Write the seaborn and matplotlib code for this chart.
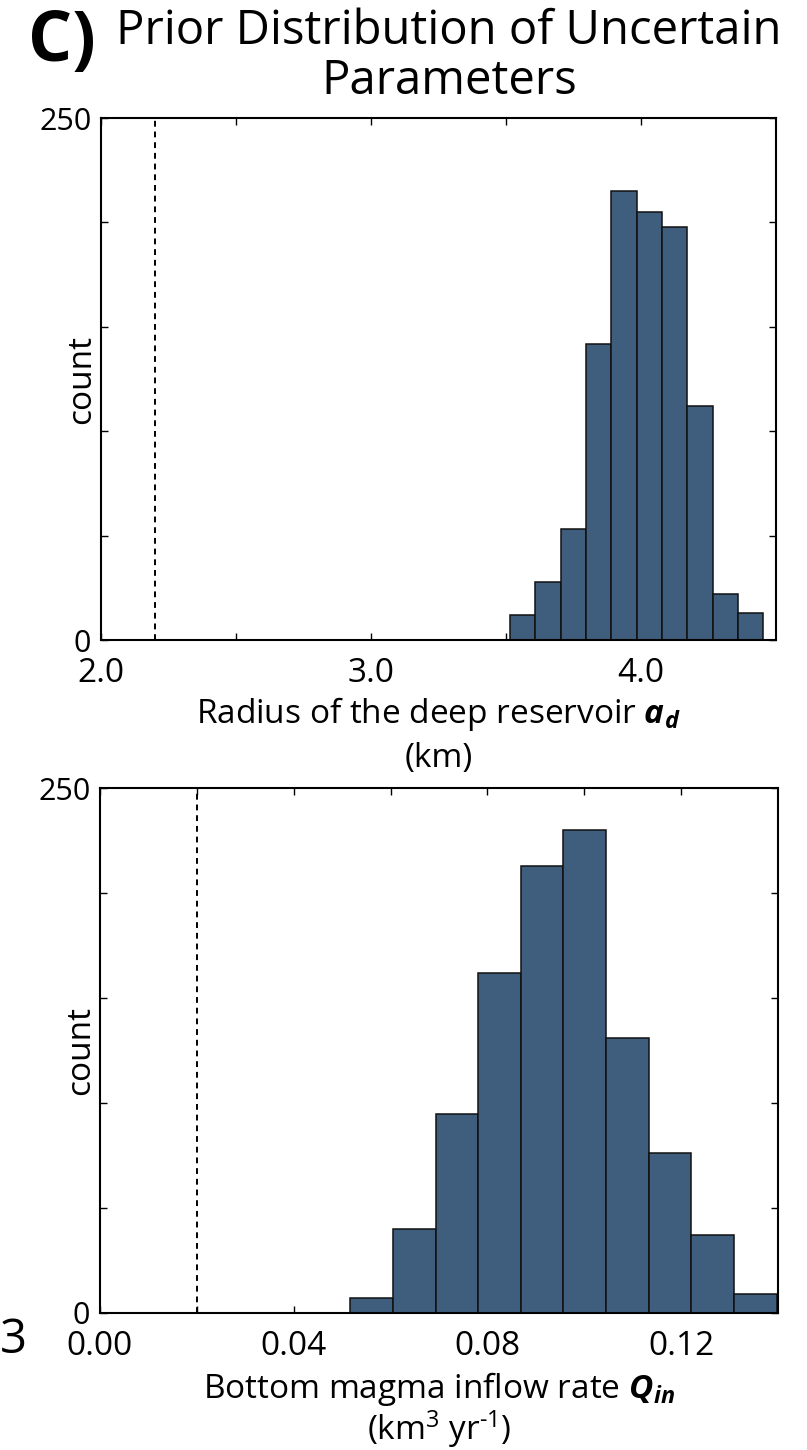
import numpy as np
import pandas as pd
import matplotlib
matplotlib.use("Agg")
import matplotlib.pyplot as plt
import seaborn as sns

# Prior samples binned into 10 classes per parameter
radius_edges_lo, radius_edges_hi = 3.515, 4.453
radius_counts = [12, 28, 53, 142, 215, 205, 198, 112, 22, 13]
radius_true = 2.2

inflow_edges_lo, inflow_edges_hi = 0.0517, 0.1397
inflow_counts = [7, 40, 95, 162, 213, 230, 131, 76, 37, 9]
inflow_true = 0.02

radius_ticks = [2.0, 2.5, 3.0, 3.5, 4.0]
radius_ticklabels = ["2.0", "", "3.0", "", "4.0"]
inflow_ticks = [0.0, 0.02, 0.04, 0.06, 0.08, 0.10, 0.12]
inflow_ticklabels = ["0.00", "", "0.04", "", "0.08", "", "0.12"]
count_ticks = [0, 50, 100, 150, 200, 250]
count_ticklabels = ["0", "", "", "", "", "250"]

sns.set_theme(style="white")
FONT = ["Open Sans", "DejaVu Sans"]
plt.rcParams["font.family"] = FONT
plt.rcParams["mathtext.fontset"] = "custom"
plt.rcParams["mathtext.rm"] = "Open Sans"
plt.rcParams["mathtext.it"] = "Open Sans:italic"
plt.rcParams["mathtext.bf"] = "Open Sans:bold:italic"
for key in ("text.color", "axes.labelcolor", "xtick.color", "ytick.color"):
    plt.rcParams[key] = "black"

BAR = "#3f5e7d"
W, H = 807, 1450
fig = plt.figure(figsize=(W / 100, H / 100), dpi=100)

ax1 = fig.add_axes([101 / W, 1 - 640 / H, 675 / W, 522 / H])
ax2 = fig.add_axes([100 / W, 1 - 1313 / H, 678 / W, 525 / H])


def panel(ax, lo, hi, counts, true_val, xlim, xticks, xticklabels, xlabel,
          label_y, spacing):
    edges = np.linspace(lo, hi, len(counts) + 1)
    centers = (edges[:-1] + edges[1:]) / 2
    df = pd.DataFrame({"value": centers, "n": counts})
    sns.histplot(data=df, x="value", weights="n", bins=edges.tolist(), ax=ax,
                 color=BAR, alpha=1.0, edgecolor="#111111", linewidth=1.1)
    ax.axvline(true_val, color="black", ls=(0, (3, 2.5)), lw=1.4)
    ax.set_xlim(*xlim)
    ax.set_ylim(0, 250)
    ax.set_xticks(xticks)
    ax.set_xticklabels(xticklabels)
    ax.set_yticks(count_ticks)
    ax.set_yticklabels(count_ticklabels)
    ax.tick_params(direction="in", length=5, width=1.0, top=True, right=True,
                   bottom=True, left=True, color="black")
    ax.tick_params(axis="x", labelsize=24, pad=12)
    ax.tick_params(axis="y", labelsize=22, pad=7)
    for s in ax.spines.values():
        s.set_color("black")
        s.set_linewidth(1.5)
    ax.set_ylabel("count", fontsize=24, va="center")
    ax.yaxis.set_label_coords(-0.028, 0.5)
    ax.set_xlabel(xlabel, fontsize=24, linespacing=spacing, va="top")
    ax.xaxis.set_label_coords(0.5, label_y)
    ax.grid(False)


panel(ax1, radius_edges_lo, radius_edges_hi, radius_counts, radius_true,
      (2.0, 4.5), radius_ticks, radius_ticklabels,
      "Radius of the deep reservoir $\\mathbf{a_d}$\n(km)", -0.105, 1.35)
panel(ax2, inflow_edges_lo, inflow_edges_hi, inflow_counts, inflow_true,
      (0.0, 0.14), inflow_ticks, inflow_ticklabels,
      "Bottom magma inflow rate $\\mathbf{Q_{in}}$\n"
      "(km$^{\\mathregular{3}}$ yr$^{\\mathregular{\\text{-}1}}$)", -0.108, 1.0)

fig.text(449 / W, 1 - 8 / H, "Prior Distribution of Uncertain\nParameters",
         ha="center", va="top", fontsize=34, linespacing=1.05)
fig.text(28 / W, 1 - 8 / H, "C)", ha="left", va="top", fontsize=50,
         fontweight="bold")
fig.text(0, 1 - 1340 / H, "3", ha="left", va="center", fontsize=34)

fig.savefig("out.png", dpi=100)
